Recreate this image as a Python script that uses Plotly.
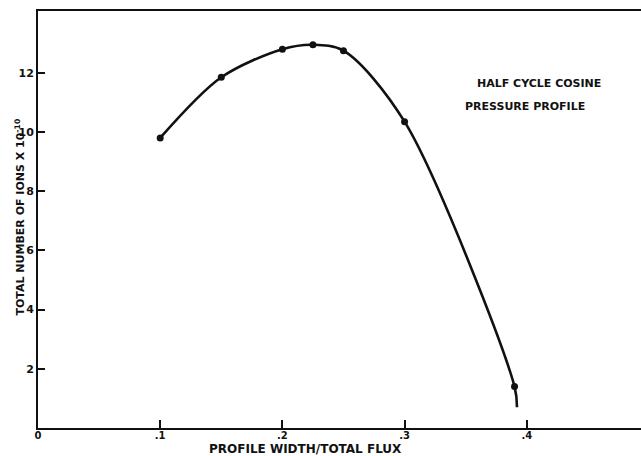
import plotly.graph_objects as go

# Measured points: profile width / total flux vs total number of ions (x 1e10)
profile_width = [0.10, 0.15, 0.20, 0.225, 0.25, 0.30, 0.39]
total_ions = [9.8, 11.85, 12.8, 12.95, 12.75, 10.35, 1.4]

# Faired curve drawn through the points, carried a little past the last one
curve_x = profile_width + [0.392]
curve_y = total_ions + [0.7]

x_tickvals = [0, 0.1, 0.2, 0.3, 0.4]
x_ticktext = ["0", ".1", ".2", ".3", ".4"]
y_tickvals = [2, 4, 6, 8, 10, 12]
y_ticktext = ["2", "4", "6", "8", "10", "12"]

FONT = "DejaVu Sans"
INK = "#111111"

fig = go.Figure()

fig.add_trace(go.Scatter(
    x=curve_x, y=curve_y, mode="lines",
    line=dict(color=INK, width=2.6, shape="spline", smoothing=0.9),
    hoverinfo="skip", showlegend=False,
))
fig.add_trace(go.Scatter(
    x=profile_width, y=total_ions, mode="markers",
    marker=dict(color=INK, size=7),
    showlegend=False,
))

fig.update_layout(
    width=641, height=456,
    margin=dict(l=38, r=0, t=11, b=28),
    paper_bgcolor="white", plot_bgcolor="white",
    font=dict(family=FONT, color=INK, size=11, weight="bold"),
    xaxis=dict(
        range=[0, 0.4935],
        tickvals=x_tickvals, ticktext=x_ticktext,
        ticks="inside", ticklen=8, tickwidth=2, tickcolor=INK,
        ticklabelstandoff=-3,
        showline=True, linecolor=INK, linewidth=2, mirror=True,
        showgrid=False, zeroline=False,
        tickfont=dict(size=10, family=FONT, weight="bold"),
    ),
    yaxis=dict(
        range=[0, 14.09],
        tickvals=y_tickvals, ticktext=y_ticktext,
        ticks="inside", ticklen=7, tickwidth=2, tickcolor=INK,
        showline=True, linecolor=INK, linewidth=2, mirror=False,
        showgrid=False, zeroline=False,
        tickfont=dict(size=11, family=FONT, weight="bold"),
    ),
)

# Axis titles
fig.add_annotation(
    text="PROFILE WIDTH/TOTAL FLUX",
    xref="paper", yref="paper", x=0.443, y=-0.05,
    xanchor="center", yanchor="middle", showarrow=False,
    font=dict(size=12, family=FONT, weight="bold"),
)
fig.add_annotation(
    text="TOTAL NUMBER OF IONS X 10<sup>-10</sup>",
    xref="paper", yref="paper", x=-0.029, y=0.506,
    xanchor="center", yanchor="middle", showarrow=False, textangle=-90,
    font=dict(size=11, family=FONT, weight="bold"),
)

# Curve description in the upper right
fig.add_annotation(
    text="HALF CYCLE COSINE",
    xref="paper", yref="paper", x=0.831, y=0.826,
    xanchor="center", yanchor="middle", showarrow=False,
    font=dict(size=11, family=FONT, weight="bold"),
)
fig.add_annotation(
    text="PRESSURE PROFILE",
    xref="paper", yref="paper", x=0.808, y=0.771,
    xanchor="center", yanchor="middle", showarrow=False,
    font=dict(size=11, family=FONT, weight="bold"),
)

fig.write_html("out.html")
